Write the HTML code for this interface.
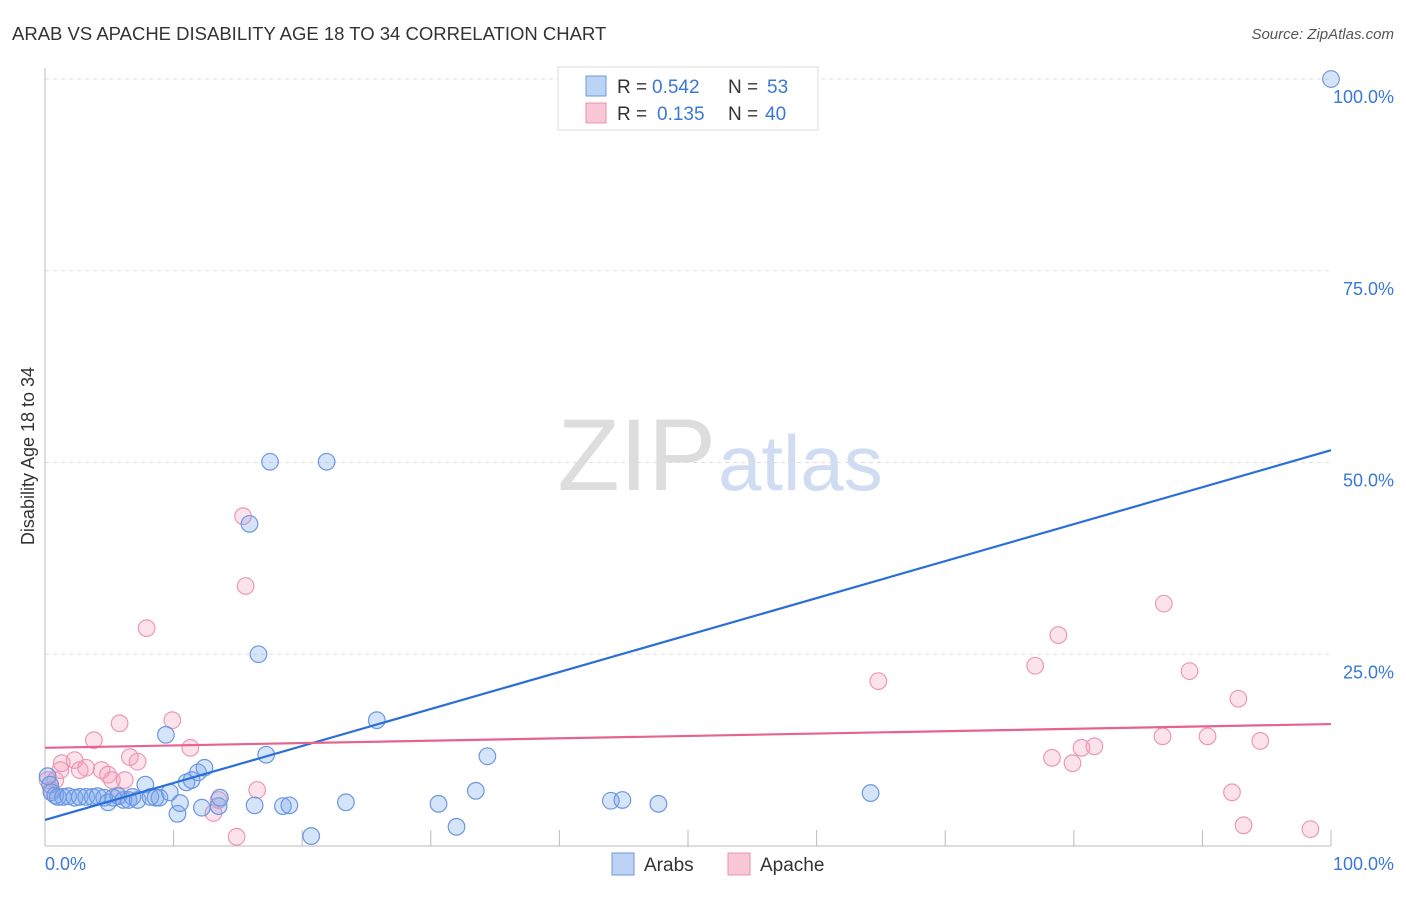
<!DOCTYPE html>
<html><head><meta charset="utf-8"><style>
body{margin:0;background:#fff;font-family:"Liberation Sans",sans-serif;}
svg text{font-family:"Liberation Sans",sans-serif;}
</style></head><body>
<svg width="1406" height="892" xmlns="http://www.w3.org/2000/svg">
<text x="12" y="40" font-size="18.5" fill="#333">ARAB VS APACHE DISABILITY AGE 18 TO 34 CORRELATION CHART</text>
<text x="1394" y="39" font-size="15" fill="#555" font-style="italic" text-anchor="end">Source: ZipAtlas.com</text>
<text x="716" y="490" font-size="102" fill="#ddd" text-anchor="end" font-family="Liberation Serif">ZIP</text>
<text x="718" y="490" font-size="78" fill="#cfdcf2">atlas</text>
<g id="grid"></g>
<line x1="45" y1="68" x2="45" y2="846" stroke="#bbb"/>
<line x1="45" y1="846" x2="1331" y2="846" stroke="#bbb"/>
<text transform="translate(34,456) rotate(-90)" font-size="18" fill="#333" text-anchor="middle">Disability Age 18 to 34</text>
<text x="45" y="870" font-size="18" fill="#3a78d8">0.0%</text>
<text x="1394" y="870" font-size="18" fill="#3a78d8" text-anchor="end">100.0%</text>
<g id="pts"></g>
<g id="lines"></g>
<g>
<rect x="558" y="67" width="260" height="63" fill="#fff" stroke="#ddd"/>
<rect x="586" y="76" width="20" height="20" fill="#bcd3f5" stroke="#6d9be0"/>
<rect x="586" y="103" width="20" height="20" fill="#f9c6d5" stroke="#eb93b0"/>
<text x="617" y="93" font-size="19" fill="#333">R =</text>
<text x="652" y="93" font-size="19" fill="#3a78d8">0.542</text>
<text x="728" y="93" font-size="19" fill="#333">N =</text>
<text x="767" y="93" font-size="19" fill="#3a78d8">53</text>
<text x="617" y="120" font-size="19" fill="#333">R =</text>
<text x="657" y="120" font-size="19" fill="#3a78d8">0.135</text>
<text x="728" y="120" font-size="19" fill="#333">N =</text>
<text x="765" y="120" font-size="19" fill="#3a78d8">40</text>
</g>
<g>
<rect x="612" y="853" width="22" height="22" fill="#bcd3f5" stroke="#6d9be0"/>
<text x="644" y="871" font-size="19" fill="#333">Arabs</text>
<rect x="728" y="853" width="22" height="22" fill="#f9c6d5" stroke="#eb93b0"/>
<text x="760" y="871" font-size="19" fill="#333">Apache</text>
</g>
</svg>
<script>
const yTicks=[25,50,75,100];
const yTickLabels=["25.0%","50.0%","75.0%","100.0%"];
const xTicks=[0,10,20,30,40,50,60,70,80,90,100];
const arabX=[0.2,0.4,0.5,0.8,1.0,1.4,1.8,2.3,2.7,3.2,3.7,4.1,4.6,4.9,5.3,5.7,6.1,6.5,6.8,7.2,7.8,8.2,8.6,8.9,9.4,9.7,10.3,10.5,11.0,11.4,11.9,12.4,12.2,13.5,13.6,15.9,16.3,16.6,17.2,17.5,18.5,19.0,20.7,21.9,23.4,25.8,30.6,32.0,33.5,34.4,44.0,44.9,47.7,64.2,100];
const arabY=[9.1,8.0,7.0,6.6,6.4,6.4,6.5,6.3,6.4,6.4,6.4,6.5,6.3,5.7,6.3,6.5,6.0,6.0,6.4,6.0,8.0,6.4,6.3,6.3,14.5,7.0,4.2,5.6,8.3,8.6,9.6,10.2,5.0,5.2,6.3,42.0,5.3,25.0,11.9,50.1,5.2,5.3,1.3,50.1,5.7,16.4,5.5,2.5,7.2,11.7,5.9,6.0,5.5,6.9,100];
const apacheX=[0.2,0.5,0.8,1.2,1.3,2.3,2.7,3.2,3.8,4.4,4.9,5.2,5.7,5.8,6.2,6.6,7.2,7.9,9.9,11.3,13.1,13.5,14.9,15.4,15.6,16.5,64.8,77.0,78.3,78.8,79.9,80.6,81.6,86.9,87.0,89.0,90.4,92.3,92.8,93.2,94.5,98.4];
const apacheY=[8.6,7.3,8.6,9.9,10.8,11.2,9.9,10.2,13.8,9.9,9.3,8.6,6.5,16.0,8.6,11.6,11.0,28.4,16.4,12.8,4.3,6.0,1.2,43.0,33.9,7.3,21.5,23.5,11.5,27.5,10.8,12.8,13.0,14.3,31.6,22.8,14.3,7.0,19.2,2.7,13.7,2.2];
const arabTrend=[3.4,51.6];
const apacheTrend=[12.8,15.9];
const NS="http://www.w3.org/2000/svg";
const sx=v=>45+v*12.86;
const sy=v=>846-v*7.67;
function mk(tag,attrs,parent){const e=document.createElementNS(NS,tag);for(const k in attrs)e.setAttribute(k,attrs[k]);document.getElementById(parent).appendChild(e);return e;}
yTicks.forEach((t,i)=>{
 const l=mk('line',{x1:45,x2:1331,y1:sy(t),y2:sy(t),stroke:'#ddd','stroke-dasharray':'4,4'},'grid');
 
 
 const tx=mk('text',{x:1394,y:sy(t)+24,'font-size':18,fill:'#3a78d8','text-anchor':'end'},'grid');
 tx.textContent=yTickLabels[i];
 
 
});
xTicks.forEach(t=>{
 const l=mk('line',{x1:sx(t),x2:sx(t),y1:830,y2:846,stroke:'#bbb'},'grid');
 
 
});
apacheX.forEach((x,i)=>{
 const c=mk('circle',{cx:sx(x),cy:sy(apacheY[i]),r:8.3,fill:'rgba(244,160,190,0.3)',stroke:'#ec98b4','stroke-width':1.2},'pts');
 
 
});
arabX.forEach((x,i)=>{
 const c=mk('circle',{cx:sx(x),cy:sy(arabY[i]),r:8.3,fill:'rgba(120,165,235,0.3)',stroke:'#6a98e0','stroke-width':1.2},'pts');
 
 
});
const l1=mk('line',{x1:sx(0),x2:sx(100),y1:sy(arabTrend[0]),y2:sy(arabTrend[1]),stroke:'#2a6fd8','stroke-width':2.2},'lines');


const l2=mk('line',{x1:sx(0),x2:sx(100),y1:sy(apacheTrend[0]),y2:sy(apacheTrend[1]),stroke:'#e5648e','stroke-width':2.2},'lines');


</script>
</body></html>
